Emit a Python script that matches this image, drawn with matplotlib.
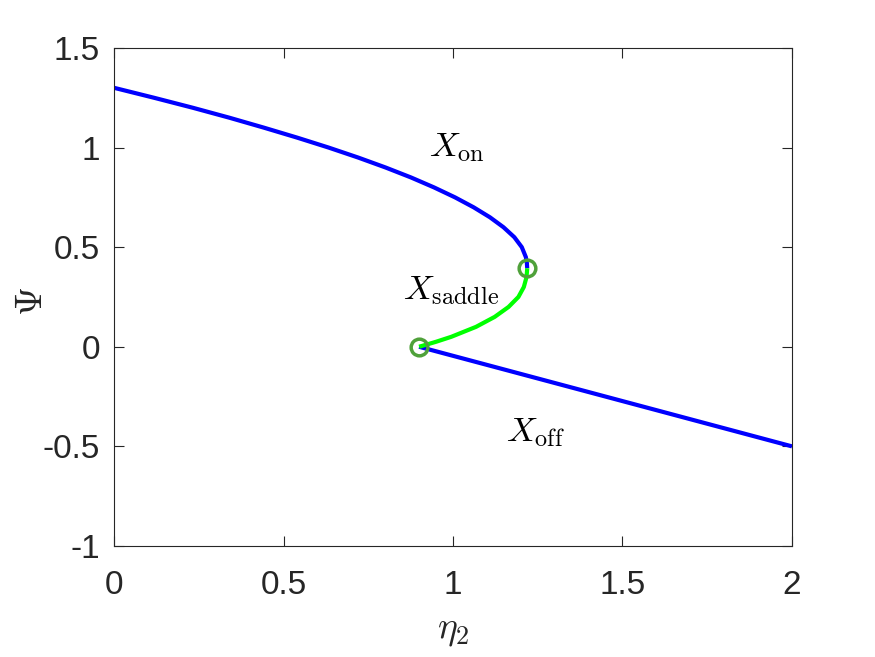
import numpy as np
import matplotlib
matplotlib.use("Agg")
import matplotlib.pyplot as plt

plt.rcParams['font.family'] = ['Liberation Sans', 'DejaVu Sans']
plt.rcParams['mathtext.fontset'] = 'cm'

# upper stable branch (X_on)
psi_on = [1.30, 1.25, 1.20, 1.15, 1.10, 1.05, 1.00, 0.95, 0.90, 0.85,
          0.80, 0.75, 0.70, 0.65, 0.60, 0.55, 0.50, 0.45, 0.42, 0.394]
eta_on = [0.000, 0.118, 0.232, 0.340, 0.442, 0.540, 0.633, 0.720, 0.801, 0.876,
          0.944, 1.006, 1.061, 1.109, 1.149, 1.181, 1.203, 1.215, 1.218, 1.219]

# saddle branch
psi_sad = [0.000, 0.025, 0.050, 0.100, 0.150, 0.200, 0.250, 0.300, 0.350, 0.394]
eta_sad = [0.900, 0.950, 0.995, 1.068, 1.123, 1.164, 1.193, 1.209, 1.217, 1.219]

# lower stable branch (X_off)
eta_off = [0.90, 2.00]
psi_off = [0.00, -0.50]

# fold points
eta_fold = [1.219, 0.900]
psi_fold = [0.394, 0.000]

fig = plt.figure(figsize=(8.75, 6.57), dpi=100)
ax = fig.add_axes([0.1303, 0.169, 0.7748, 0.758])

lw = 3.0
ax.plot(eta_on, psi_on, color='#0000ff', lw=lw, solid_capstyle='butt')
ax.plot(eta_off, psi_off, color='#0000ff', lw=lw, solid_capstyle='butt')
ax.plot(eta_sad, psi_sad, color='#00ff00', lw=lw, solid_capstyle='butt')
ax.plot(eta_fold, psi_fold, 'o', ms=12, mfc='none', mec='#4fa13a', mew=2.5)

tc = '#262626'
ax.text(0.93, 1.0, r'$X_{\rm on}$', fontsize=25, va='center', ha='left')
ax.text(0.852, 0.28, r'$X_{\rm saddle}$', fontsize=25, va='center', ha='left')
ax.text(1.155, -0.43, r'$X_{\rm off}$', fontsize=25, va='center', ha='left')

ax.set_xlim(0, 2)
ax.set_ylim(-1, 1.5)
ax.set_xticks([0, 0.5, 1, 1.5, 2])
ax.set_xticklabels(['0', '0.5', '1', '1.5', '2'])
ax.set_yticks([-1, -0.5, 0, 0.5, 1, 1.5])
ax.set_yticklabels(['-1', '-0.5', '0', '0.5', '1', '1.5'])
ax.tick_params(direction='in', length=7, width=0.8, labelsize=24, colors=tc,
               top=True, right=True)
ax.tick_params(axis='x', pad=17)
ax.tick_params(axis='y', pad=10)
for s in ax.spines.values():
    s.set_color(tc)
    s.set_linewidth(0.8)

ax.set_xlabel(r'$\eta_2$', fontsize=27, color=tc, labelpad=8)
ax.set_ylabel(r'$\Psi$', fontsize=27, color=tc)
ax.yaxis.set_label_coords(-0.094, 0.49)

fig.savefig('out.png', dpi=100)
